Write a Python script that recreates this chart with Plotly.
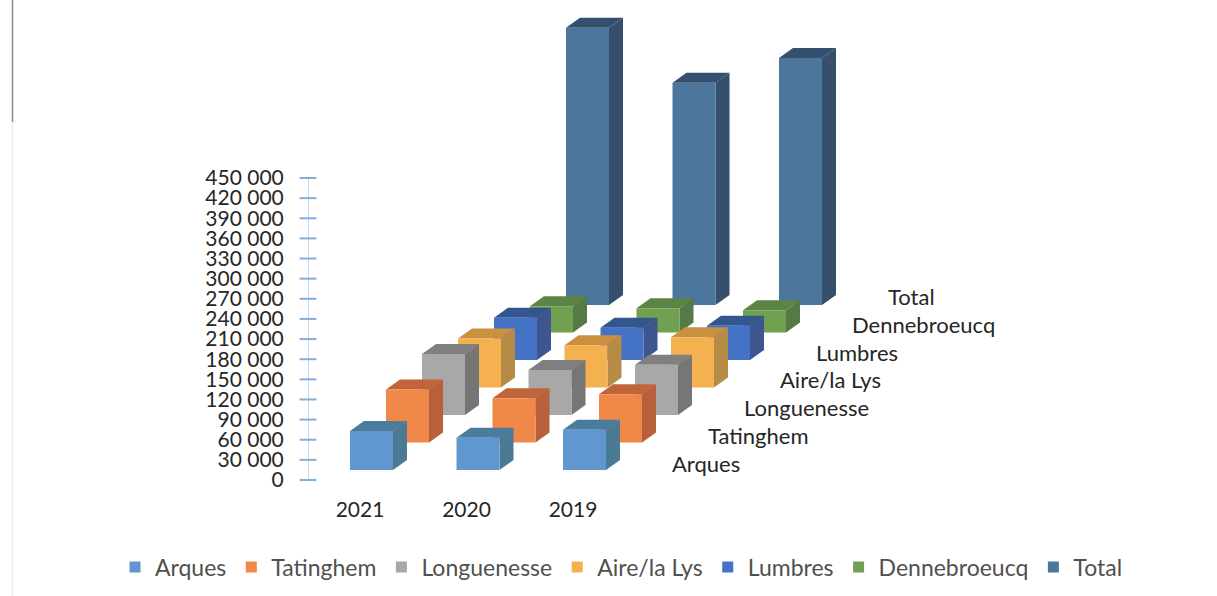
import plotly.graph_objects as go

years = ["2021", "2020", "2019"]
series = ["Arques", "Tatinghem", "Longuenesse", "Aire/la Lys", "Lumbres", "Dennebroeucq", "Total"]
arques = [58000, 48000, 60000]
tatinghem = [79000, 66000, 72000]
longuenesse = [91000, 67000, 75000]
aire = [73000, 63000, 75000]
lumbres = [63000, 48000, 51000]
dennebroeucq = [39000, 36000, 33000]
total = [413000, 331000, 368000]
values = [arques, tatinghem, longuenesse, aire, lumbres, dennebroeucq, total]
tick_vals = list(range(0, 450001, 30000))
tick_text = ["0" if v == 0 else f"{v//1000} 000" for v in tick_vals]

front = ["#6097CE", "#F0884A", "#A8A8A8", "#F5B050", "#4472C4", "#70A050", "#4C769C"]
top = ["#4A7C9E", "#C0653A", "#808080", "#C99040", "#34568F", "#5C8445", "#34506E"]
side = ["#4A7A94", "#B8603C", "#767676", "#B58B45", "#3F5590", "#557A45", "#354F6C"]

W, H = 1217, 596
L, B = 308, 116
PX_X = 106.5              # px per year step
PX_Y = 302 / 450000       # px per value unit
X0 = (L - 360) / PX_X     # x-axis value at the left edge of the plot area
BAR_W = 43 / PX_X
DEPTH_X = 14 / PX_X
DEPTH_Y = 10 / PX_Y
STEP_X = 36 / PX_X
STEP_Y = 27.5 / PX_Y
FRONT_X = -10 / PX_X
FRONT_Y = 10 / PX_Y

fig = go.Figure()
for s in range(len(series) - 1, -1, -1):
    xs_f, ys_f, xs_t, ys_t, xs_s, ys_s = [], [], [], [], [], []
    for i in range(len(years)):
        v = values[s][i]
        x0 = i + FRONT_X + s * STEP_X
        x1 = x0 + BAR_W
        y0 = FRONT_Y + s * STEP_Y
        y1 = y0 + v
        xs_f += [x0, x1, x1, x0, x0, None]
        ys_f += [y0, y0, y1, y1, y0, None]
        xs_t += [x0, x1, x1 + DEPTH_X, x0 + DEPTH_X, x0, None]
        ys_t += [y1, y1, y1 + DEPTH_Y, y1 + DEPTH_Y, y1, None]
        xs_s += [x1, x1 + DEPTH_X, x1 + DEPTH_X, x1, x1, None]
        ys_s += [y0, y0 + DEPTH_Y, y1 + DEPTH_Y, y1, y0, None]
    for xs, ys, col in ((xs_s, ys_s, side[s]), (xs_t, ys_t, top[s]), (xs_f, ys_f, front[s])):
        fig.add_trace(go.Scatter(x=xs, y=ys, mode="lines", fill="toself", fillcolor=col,
                                 line=dict(width=0, color=col), showlegend=False,
                                 hoverinfo="skip"))

# series depth labels
fig.add_trace(go.Scatter(
    x=[(672 - 360) / PX_X + s * STEP_X for s in range(len(series))],
    y=[(480 - 466) / PX_Y + s * 27.7 / PX_Y for s in range(len(series))],
    mode="text", text=series, textposition="middle right",
    textfont=dict(family="Lato", size=22, color="#262626"),
    showlegend=False, cliponaxis=False, hoverinfo="skip"))

# value axis drawn with its cross ticks
axis_x = X0
axis_col = "#7FB0DC"
fig.add_trace(go.Scatter(x=[axis_x, axis_x], y=[0, 450000], mode="lines",
                         line=dict(color="#C4D8EA", width=2), showlegend=False,
                         cliponaxis=False, hoverinfo="skip"))
fig.add_trace(go.Scatter(x=[axis_x - 3 / PX_X] * 15, y=[v + 15000 for v in tick_vals[:-1]], mode="markers",
                         marker=dict(symbol="line-ew", size=6, line=dict(color=axis_col, width=2)),
                         showlegend=False, cliponaxis=False, hoverinfo="skip"))
fig.add_trace(go.Scatter(x=[axis_x] * len(tick_vals), y=tick_vals, mode="markers",
                         marker=dict(symbol="line-ew", size=12, line=dict(color=axis_col, width=2)),
                         showlegend=False, cliponaxis=False, hoverinfo="skip"))

# legend entries
for s, name in enumerate(series):
    fig.add_trace(go.Scatter(x=[None], y=[None], mode="markers", name=name, legendrank=s + 1,
                             marker=dict(symbol="square", size=11, color=front[s])))

fig.update_layout(
    width=W, height=H, autosize=False,
    margin=dict(l=0, r=0, t=0, b=B),
    paper_bgcolor="white", plot_bgcolor="white",
    font=dict(family="Lato", size=21, color="#262626"),
    xaxis=dict(domain=[L / W, 1], range=[X0, X0 + (W - L) / PX_X], tickmode="array", tickvals=[0, 1, 2], ticktext=years,
               showgrid=False, zeroline=False, showline=False, ticks="outside", ticklen=11,
               tickcolor="rgba(0,0,0,0)", fixedrange=True),
    yaxis=dict(range=[0, (H - B) / PX_Y], tickmode="array", tickvals=tick_vals, ticktext=tick_text,
               showgrid=False, zeroline=False, showline=False, ticks="outside", ticklen=19,
               tickcolor="rgba(0,0,0,0)", fixedrange=True),
    legend=dict(orientation="h", xref="container", yref="container", x=115 / W, xanchor="left",
                y=(H - 567) / H, yanchor="middle",
                font=dict(family="Lato", size=23, color="#505050"), itemclick=False, itemdoubleclick=False,
                traceorder="normal"),
    shapes=[dict(type="line", xref="paper", yref="paper", x0=12.5 / W, x1=12.5 / W,
                 y0=1, y1=(H - B - 122) / (H - B), line=dict(color="#8A8A8A", width=1.5)),
            dict(type="line", xref="paper", yref="paper", x0=12.5 / W, x1=12.5 / W,
                 y0=(H - B - 122) / (H - B), y1=-B / (H - B), line=dict(color="#F0F0F0", width=2))],
)
fig.write_html("out.html", post_script="document.body.style.margin='0';", config={"displayModeBar": False})
